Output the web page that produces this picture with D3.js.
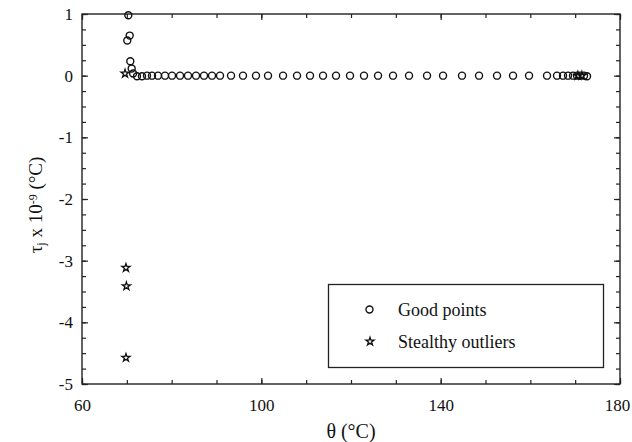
<!DOCTYPE html>
<html>
<head>
<meta charset="utf-8">
<script src="https://cdn.jsdelivr.net/npm/d3@7"></script>
<style>
  html, body { margin: 0; padding: 0; background: #fff; }
  svg { display: block; }
  text { font-family: "Liberation Serif", "DejaVu Serif", serif; fill: #111; }
</style>
</head>
<body>
<svg id="chart" width="632" height="442"></svg>
<script>
// ---- data ----
const goodTheta = [70.33, 70.64, 70.1, 70.77, 71.08, 71.4,
  72.27, 73.38, 74.5, 75.61, 76.95, 78.51, 80.08, 81.86, 83.64, 85.43, 87.21, 89.0, 90.78,
  93.24, 95.91, 98.81, 101.49, 104.84, 107.96, 110.86, 113.76, 116.66, 119.78, 122.9,
  126.03, 129.37, 132.94, 136.96, 140.53, 144.76, 148.56, 152.57, 156.14, 159.71, 163.72,
  165.95, 167.29, 168.41, 169.52, 170.41, 171.09, 171.98, 172.65];
const goodTau = [0.98, 0.65, 0.57, 0.235, 0.117, 0.035,
  -0.01, -0.01, 0, 0, 0, 0, 0, 0, 0, 0, 0, 0, 0,
  0, 0, 0, 0, 0, 0, 0, 0, 0, 0, 0,
  0, 0, 0, 0, 0, 0, 0, 0, 0, 0, 0,
  0, 0, 0, 0, 0, 0, 0, -0.01];
const outlierTheta = [69.6, 69.8, 69.9, 69.8, 170.6, 171.5];
const outlierTau = [0.035, -3.115, -3.413, -4.574, 0.0, 0.0];
const xTicks = [60, 100, 140, 180];
const yTicks = [1, 0, -1, -2, -3, -4, -5];
const legendLabels = ["Good points", "Stealthy outliers"];

// ---- layout ----
const svg = d3.select("#chart");
const L = 82, R = 620, T = 14, B = 384;
const x = d3.scaleLinear().domain([60, 180]).range([L, R]);
const y = d3.scaleLinear().domain([-5, 1]).range([B, T]);

const xMinor = d3.range(60, 180.01, 10);
const yMinor = d3.range(-5, 1.001, 0.25);
const fmt = d => String(d); // plain hyphen minus as in the reference

// frame
svg.append("rect").attr("x", L).attr("y", T).attr("width", R - L).attr("height", B - T)
  .attr("fill", "none").attr("stroke", "#222").attr("stroke-width", 1.4);

function styleAxis(g) {
  g.select(".domain").remove();
  g.selectAll("line").attr("stroke", "#222").attr("stroke-width", 1.2);
  g.selectAll("text").style("font-family", '"Liberation Serif", serif').style("font-size", "17px").attr("fill", "#111");
}

// bottom axis (major with labels, inward ticks)
const bx = svg.append("g").attr("transform", `translate(0,${B})`)
  .call(d3.axisBottom(x).tickValues(xTicks).tickSize(-6).tickPadding(15).tickFormat(fmt))
  .call(styleAxis);
// keep the last label inside the window, as in the reference
bx.selectAll(".tick text").filter(d => d === 180).attr("dx", -3);
svg.append("g").attr("transform", `translate(0,${B})`)
  .call(d3.axisBottom(x).tickValues(xMinor).tickSize(-4).tickFormat(""))
  .call(styleAxis);
// top axis
svg.append("g").attr("transform", `translate(0,${T})`)
  .call(d3.axisTop(x).tickValues(xMinor).tickSize(-4).tickFormat(""))
  .call(styleAxis);
svg.append("g").attr("transform", `translate(0,${T})`)
  .call(d3.axisTop(x).tickValues(xTicks).tickSize(-6).tickFormat(""))
  .call(styleAxis);
// left axis
svg.append("g").attr("transform", `translate(${L},0)`)
  .call(d3.axisLeft(y).tickValues(yTicks).tickSize(-6).tickPadding(9).tickFormat(fmt))
  .call(styleAxis);
svg.append("g").attr("transform", `translate(${L},0)`)
  .call(d3.axisLeft(y).tickValues(yMinor).tickSize(-4).tickFormat(""))
  .call(styleAxis);
// right axis
svg.append("g").attr("transform", `translate(${R},0)`)
  .call(d3.axisRight(y).tickValues(yMinor).tickSize(-4).tickFormat(""))
  .call(styleAxis);
svg.append("g").attr("transform", `translate(${R},0)`)
  .call(d3.axisRight(y).tickValues(yTicks).tickSize(-6).tickFormat(""))
  .call(styleAxis);

// axis titles
svg.append("text").attr("x", (L + R) / 2).attr("y", 438).attr("text-anchor", "middle")
  .style("font-size", "20px").text("θ (°C)");

const yt = svg.append("text").attr("transform", `translate(42,205) rotate(-90)`)
  .attr("text-anchor", "middle").style("font-size", "19px");
yt.append("tspan").text("τ");
yt.append("tspan").attr("baseline-shift", "-25%").style("font-size", "12px").text("j");
yt.append("tspan").text(" x 10");
yt.append("tspan").attr("baseline-shift", "45%").style("font-size", "12px").text("-9");
yt.append("tspan").text(" (°C)");

// marks
const star = d3.symbol().type(d3.symbolStar).size(20);

svg.append("g").selectAll("circle").data(goodTheta).join("circle")
  .attr("cx", d => x(d)).attr("cy", (d, i) => y(goodTau[i])).attr("r", 3.5)
  .attr("fill", "none").attr("stroke", "#111").attr("stroke-width", 1.4);

svg.append("g").selectAll("path").data(outlierTheta).join("path")
  .attr("d", star)
  .attr("transform", (d, i) => `translate(${x(d)},${y(outlierTau[i])})`)
  .attr("fill", "none").attr("stroke", "#111").attr("stroke-width", 1.3);

// legend
const lg = svg.append("g");
lg.append("rect").attr("x", 328.5).attr("y", 284.5).attr("width", 275).attr("height", 83)
  .attr("fill", "#fff").attr("stroke", "#222").attr("stroke-width", 1.3);
lg.append("circle").attr("cx", 369.5).attr("cy", 309.5).attr("r", 3.5)
  .attr("fill", "none").attr("stroke", "#111").attr("stroke-width", 1.4);
lg.append("path").attr("d", star).attr("transform", "translate(370,341.5)")
  .attr("fill", "none").attr("stroke", "#111").attr("stroke-width", 1.3);
lg.selectAll("text.lab").data(legendLabels).join("text").attr("class", "lab")
  .attr("x", 398).attr("y", (d, i) => 316 + i * 32).style("font-size", "18px").text(d => d);
</script>
</body>
</html>
